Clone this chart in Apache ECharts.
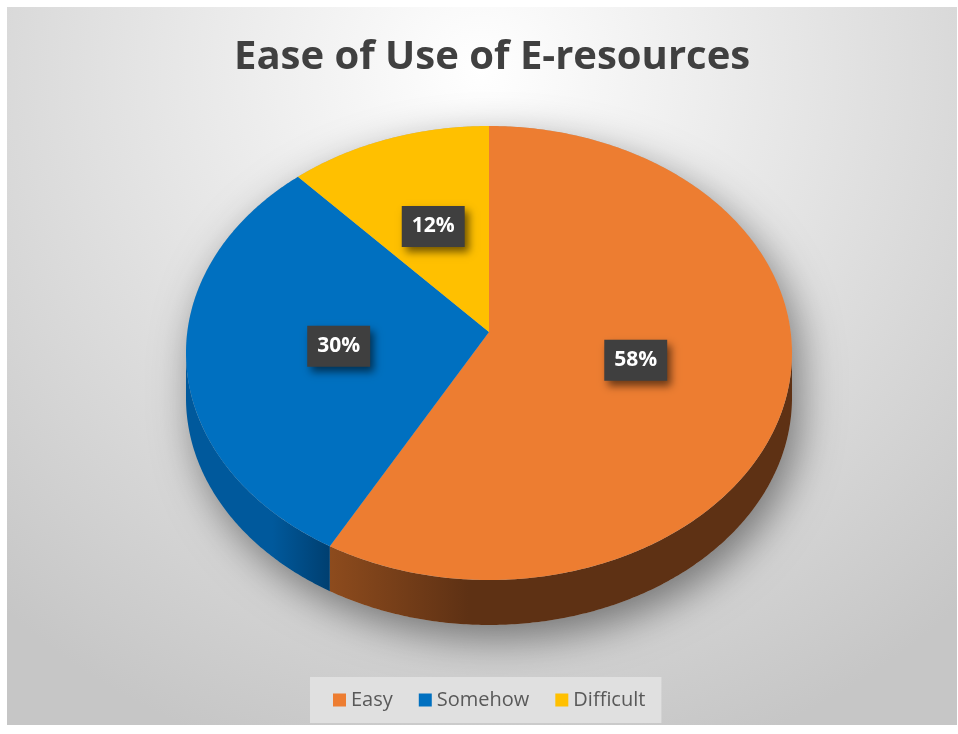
<!DOCTYPE html>
<html>
<head>
<meta charset="utf-8">
<script src="https://cdn.jsdelivr.net/npm/echarts@6/dist/echarts.min.js"></script>
<style>
html,body{margin:0;padding:0;background:#fff;}
#chart{width:958px;height:734px;}
</style>
</head>
<body>
<div id="chart"></div>
<script>
const titleText = 'Ease of Use of E-resources';
const categories = ['Easy', 'Somehow', 'Difficult'];
const values = [58, 30, 12];
const topColors = ['#ED7D31', '#0070C0', '#FFC000'];
const sideColors = [['#8d4b1d', '#5e3114'], ['#00599c', '#003f70'], ['#b38600', '#8a6800']];

const FONT = '"Open Sans", "Noto Sans", sans-serif';
const total = values.reduce((a, b) => a + b, 0);
const starts = [];
values.reduce((acc, v, i) => { starts[i] = acc; return acc + v; }, 0);

// layout of the pseudo-3D pie
const G = { cx: 489, cy: 353, rx: 303, ry: 227, apexY: 332, depth: 45, warp: 6 * Math.PI / 180 };

// perspective-like warp: the front of the disc is widened slightly
function warp(a) { return a - G.warp * Math.sin(a); }
function rim(a, dy) {
  const w = warp(a);
  return [G.cx + G.rx * Math.sin(w), G.cy - G.ry * Math.cos(w) + (dy || 0)];
}
function rimRaw(w, dy) {
  return [G.cx + G.rx * Math.sin(w), G.cy - G.ry * Math.cos(w) + (dy || 0)];
}
function arcPts(a0, a1, dy) {
  const pts = [];
  const n = Math.max(2, Math.ceil(Math.abs(a1 - a0) / 0.01));
  for (let k = 0; k <= n; k++) pts.push(rim(a0 + (a1 - a0) * k / n, dy));
  return pts;
}
function arcPtsRaw(w0, w1, dy) {
  const pts = [];
  const n = Math.max(2, Math.ceil(Math.abs(w1 - w0) / 0.01));
  for (let k = 0; k <= n; k++) pts.push(rimRaw(w0 + (w1 - w0) * k / n, dy));
  return pts;
}

function makeRender(idx) {
  return function (params, api) {
    const v = api.value(0);
    const a0 = starts[idx] / total * Math.PI * 2;
    const a1 = a0 + v / total * Math.PI * 2;
    const children = [];

    if (idx === 0) {
      // silhouette casting the soft shadow under the pie
      const sil = arcPtsRaw(-Math.PI / 2, Math.PI / 2, 0).concat(arcPtsRaw(Math.PI / 2, 3 * Math.PI / 2, G.depth));
      children.push({
        type: 'polygon', z2: 0,
        shape: { points: sil },
        style: { fill: '#b0b0b0', shadowBlur: 40, shadowColor: 'rgba(0,0,0,0.45)', shadowOffsetX: 8, shadowOffsetY: 14 }
      });
    }

    // front side wall (visible between 90° and 270° on the drawn ellipse)
    const w0 = warp(a0), w1 = warp(a1);
    const s = Math.max(w0, Math.PI / 2), e = Math.min(w1, 3 * Math.PI / 2);
    if (e > s) {
      const pts = arcPtsRaw(s, e, 0).concat(arcPtsRaw(e, s, G.depth));
      children.push({
        type: 'polygon', z2: 2,
        shape: { points: pts },
        style: {
          fill: new echarts.graphic.LinearGradient(0, 0, 1, 0, [
            { offset: 0, color: sideColors[idx][0] },
            { offset: idx === 0 ? 0.3 : 0.6, color: idx === 0 ? sideColors[idx][1] : sideColors[idx][0] },
            { offset: 1, color: sideColors[idx][1] }
          ])
        }
      });
    }

    // top face
    const top = [[G.cx, G.apexY]].concat(arcPts(a0, a1, 0));
    children.push({
      type: 'polygon', z2: 10,
      shape: { points: top },
      style: { fill: topColors[idx] }
    });

    // data label
    const m = (a0 + a1) / 2;
    const lx = G.cx + 0.5 * G.rx * Math.sin(m);
    const ly = G.apexY - 0.5 * G.ry * Math.cos(m);
    children.push({
      type: 'text', z2: 100, x: lx, y: ly,
      style: {
        text: Math.round(v / total * 100) + '%',
        fill: '#ffffff',
        font: 'bold 21px ' + FONT,
        align: 'center', verticalAlign: 'middle',
        backgroundColor: '#3f3f3f',
        padding: [8, 10, 7, 10],
        lineHeight: 26,
        shadowBlur: 8, shadowColor: 'rgba(0,0,0,0.55)', shadowOffsetX: 4, shadowOffsetY: 5
      }
    });
    return { type: 'group', children: children };
  };
}

const chart = echarts.init(document.getElementById('chart'), null, { renderer: 'canvas' });
chart.setOption({
  backgroundColor: '#ffffff',
  animation: false,
  graphic: [{
    type: 'rect', z: -10, silent: true,
    shape: { x: 7, y: 7, width: 950, height: 718 },
    style: {
      fill: new echarts.graphic.RadialGradient(480, 70, 720, [
        { offset: 0, color: '#ffffff' },
        { offset: 0.3, color: '#eeeeee' },
        { offset: 1, color: '#c6c6c6' }
      ], true)
    }
  }],
  title: {
    text: titleText,
    left: 229,
    top: 33,
    textStyle: { fontFamily: FONT, fontWeight: 'bold', fontSize: 40, color: '#404040' }
  },
  legend: {
    data: categories,
    bottom: 11,
    left: 310,
    icon: 'rect',
    itemWidth: 13, itemHeight: 13, itemGap: 26,
    backgroundColor: '#e0e0e0',
    padding: [13, 16, 13, 23],
    textStyle: { fontFamily: FONT, fontSize: 20, color: '#595959' }
  },
  series: categories.map((name, i) => ({
    type: 'custom',
    name: name,
    coordinateSystem: 'none',
    itemStyle: { color: topColors[i] },
    renderItem: makeRender(i),
    data: [[values[i]]]
  }))
});
</script>
</body>
</html>
